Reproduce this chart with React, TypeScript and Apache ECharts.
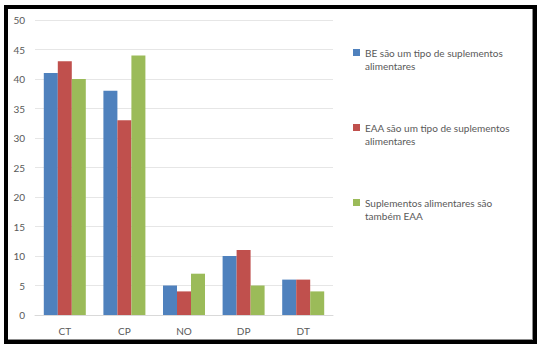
import React, { useEffect, useRef } from "react";
import * as echarts from "echarts";

const categories = ["CT", "CP", "NO", "DP", "DT"];
const seriesNames = [
  "BE são um tipo de suplementos\nalimentares",
  "EAA são um tipo de suplementos\nalimentares",
  "Suplementos alimentares são\ntambém EAA",
];
const beValues = [41, 38, 5, 10, 6];
const eaaValues = [43, 33, 4, 11, 6];
const supValues = [40, 44, 7, 5, 4];
const colors = ["#4F81BD", "#C0504D", "#9BBB59"];

export default function App() {
  const ref = useRef<HTMLDivElement>(null);
  useEffect(() => {
    if (!ref.current) return;
    const chart = echarts.init(ref.current, null, { renderer: "svg" });
    const font = "Lato, 'Open Sans', sans-serif";
    const values = [beValues, eaaValues, supValues];
    chart.setOption({
      animation: false,
      grid: { left: 35, right: 212, top: 20, bottom: 37 },
      legend: {
        orient: "vertical",
        left: 353,
        top: 33,
        padding: 0,
        itemWidth: 7,
        itemHeight: 7,
        itemGap: 36,
        icon: "rect",
        data: seriesNames,
        formatter: (name: string) => "\n" + name,
        textStyle: {
          fontFamily: font,
          fontSize: 10,
          color: "#595959",
          lineHeight: 13,
        },
      },
      xAxis: {
        type: "category",
        data: categories,
        axisLine: { lineStyle: { color: "#D9D9D9" } },
        axisTick: { show: false },
        axisLabel: { color: "#595959", fontFamily: font, fontSize: 10, margin: 11 },
      },
      yAxis: {
        type: "value",
        min: 0,
        max: 50,
        interval: 5,
        axisLine: { show: false },
        axisTick: { show: false },
        splitLine: { lineStyle: { color: "#E6E6E6" } },
        axisLabel: { color: "#595959", fontFamily: font, fontSize: 10, margin: 10 },
      },
      series: seriesNames.map((name, i) => ({
        name,
        type: "bar",
        data: values[i],
        barWidth: 14,
        barGap: "0%",
        itemStyle: { color: colors[i] },
      })),
    });
    return () => chart.dispose();
  }, []);
  return (
    <div style={{ position: "absolute", left: 0, top: 0, width: 545, height: 352, background: "#fff" }}>
      <div
        style={{
          position: "absolute",
          left: 4,
          top: 5,
          width: 533,
          height: 339,
          boxSizing: "border-box",
          border: "4px solid #000",
        }}
      >
        <div
          style={{
            position: "absolute",
            left: 0,
            top: 0,
            right: 0,
            bottom: 0,
            borderRight: "1px solid #8c8c8c",
            borderBottom: "1px solid #8c8c8c",
          }}
        />
      </div>
      <div ref={ref} style={{ position: "absolute", left: 0, top: 0, width: 545, height: 352 }} />
    </div>
  );
}
